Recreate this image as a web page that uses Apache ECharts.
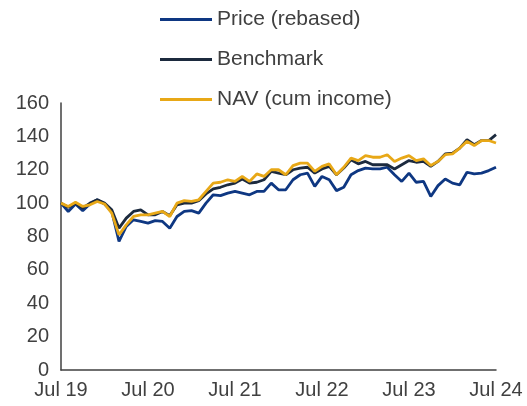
<!DOCTYPE html>
<html>
<head>
<meta charset="utf-8">
<script src="https://cdn.jsdelivr.net/npm/echarts@6/dist/echarts.min.js"></script>
<style>
  html, body { margin: 0; padding: 0; background: #fff; }
  #chart { width: 527px; height: 406px; }
</style>
</head>
<body>
<div id="chart"></div>
<script>
// monthly points, Jul 19 .. Jul 24
const monthNames = ['Jul', 'Aug', 'Sep', 'Oct', 'Nov', 'Dec', 'Jan', 'Feb', 'Mar', 'Apr', 'May', 'Jun'];
const startYear = 19;
const months = [];
for (let i = 0; i <= 60; i++) {
  const yr = startYear + Math.floor((i + 6) / 12);
  months.push(monthNames[i % 12] + ' ' + yr);
}

const price = [100, 95, 99.5, 95.5, 99.5, 102, 99.5, 95, 77, 86, 90, 89, 88, 89.5, 89, 85,
  92, 95, 95.5, 94, 100, 105, 104.5, 106, 107, 106, 105, 107, 107, 112, 108, 108, 114, 117,
  118, 110, 116, 114, 107.5, 109.5, 117, 119.5, 121, 120.5, 120.5, 121.5, 117, 113, 118,
  112.5, 113, 104, 110.5, 114.5, 112, 111, 118.5, 117.5, 118, 119.5, 121.5];

const benchmark = [100, 97.5, 100, 97, 100, 102, 100, 96, 85, 91, 95, 96, 93, 93, 95, 92.5,
  99, 100, 100, 101.5, 105.5, 108.5, 109.5, 111, 112, 114.5, 112, 112.5, 114, 119, 118, 117,
  120, 121, 121.5, 118, 120.5, 122, 117, 121, 126, 123.5, 125, 123, 123, 123, 120.5, 123,
  125.5, 124.5, 125, 122, 125, 129.5, 130, 133, 138, 135, 137.5, 137.5, 141];

const nav = [100, 98, 100.5, 98, 99, 101, 99.5, 94, 81, 87, 92, 93, 93, 94, 95, 92, 100,
  101.5, 101, 102, 107, 112, 112.5, 114, 113, 116, 113, 117.5, 116, 120, 120, 117, 122.5,
  124, 124, 119, 122, 123.5, 117, 121.5, 127, 125.5, 128.5, 127.5, 127.5, 129, 125, 127,
  128.5, 125.5, 126.5, 122.5, 125, 129, 129.5, 133, 137, 134.5, 137.5, 137.5, 136];

const seriesNames = ['Price (rebased)', 'Benchmark', 'NAV (cum income)'];
const colors = ['#0e3782', '#1c2a3e', '#e8a817'];

const chart = echarts.init(document.getElementById('chart'));

const option = {
  animation: false,
  color: colors,
  textStyle: { fontFamily: 'Liberation Sans, Arial, sans-serif' },
  legend: {
    orient: 'vertical',
    left: 155,
    top: 4,
    icon: 'rect',
    itemWidth: 52,
    itemHeight: 3,
    itemGap: 19,
    textStyle: { fontSize: 21, color: '#404040', lineHeight: 21 },
    data: seriesNames
  },
  grid: {
    left: 61,
    right: 31,
    top: 103,
    bottom: 36
  },
  xAxis: {
    type: 'category',
    boundaryGap: false,
    data: months,
    axisLine: { lineStyle: { color: '#404040', width: 1.5 } },
    axisTick: { show: false },
    axisLabel: {
      interval: 11,
      fontSize: 20,
      color: '#404040',
      margin: 10
    },
    splitLine: { show: false }
  },
  yAxis: {
    type: 'value',
    min: 0,
    max: 160,
    interval: 20,
    axisLine: { show: true, lineStyle: { color: '#404040', width: 1.5 } },
    axisTick: { show: false },
    axisLabel: { fontSize: 20, color: '#404040', margin: 12 },
    splitLine: { show: false }
  },
  series: [
    { name: seriesNames[0], type: 'line', data: price },
    { name: seriesNames[1], type: 'line', data: benchmark },
    { name: seriesNames[2], type: 'line', data: nav }
  ].map(s => Object.assign(s, {
    symbol: 'none',
    lineStyle: { width: 2.8 }
  }))
};

chart.setOption(option);
</script>
</body>
</html>
